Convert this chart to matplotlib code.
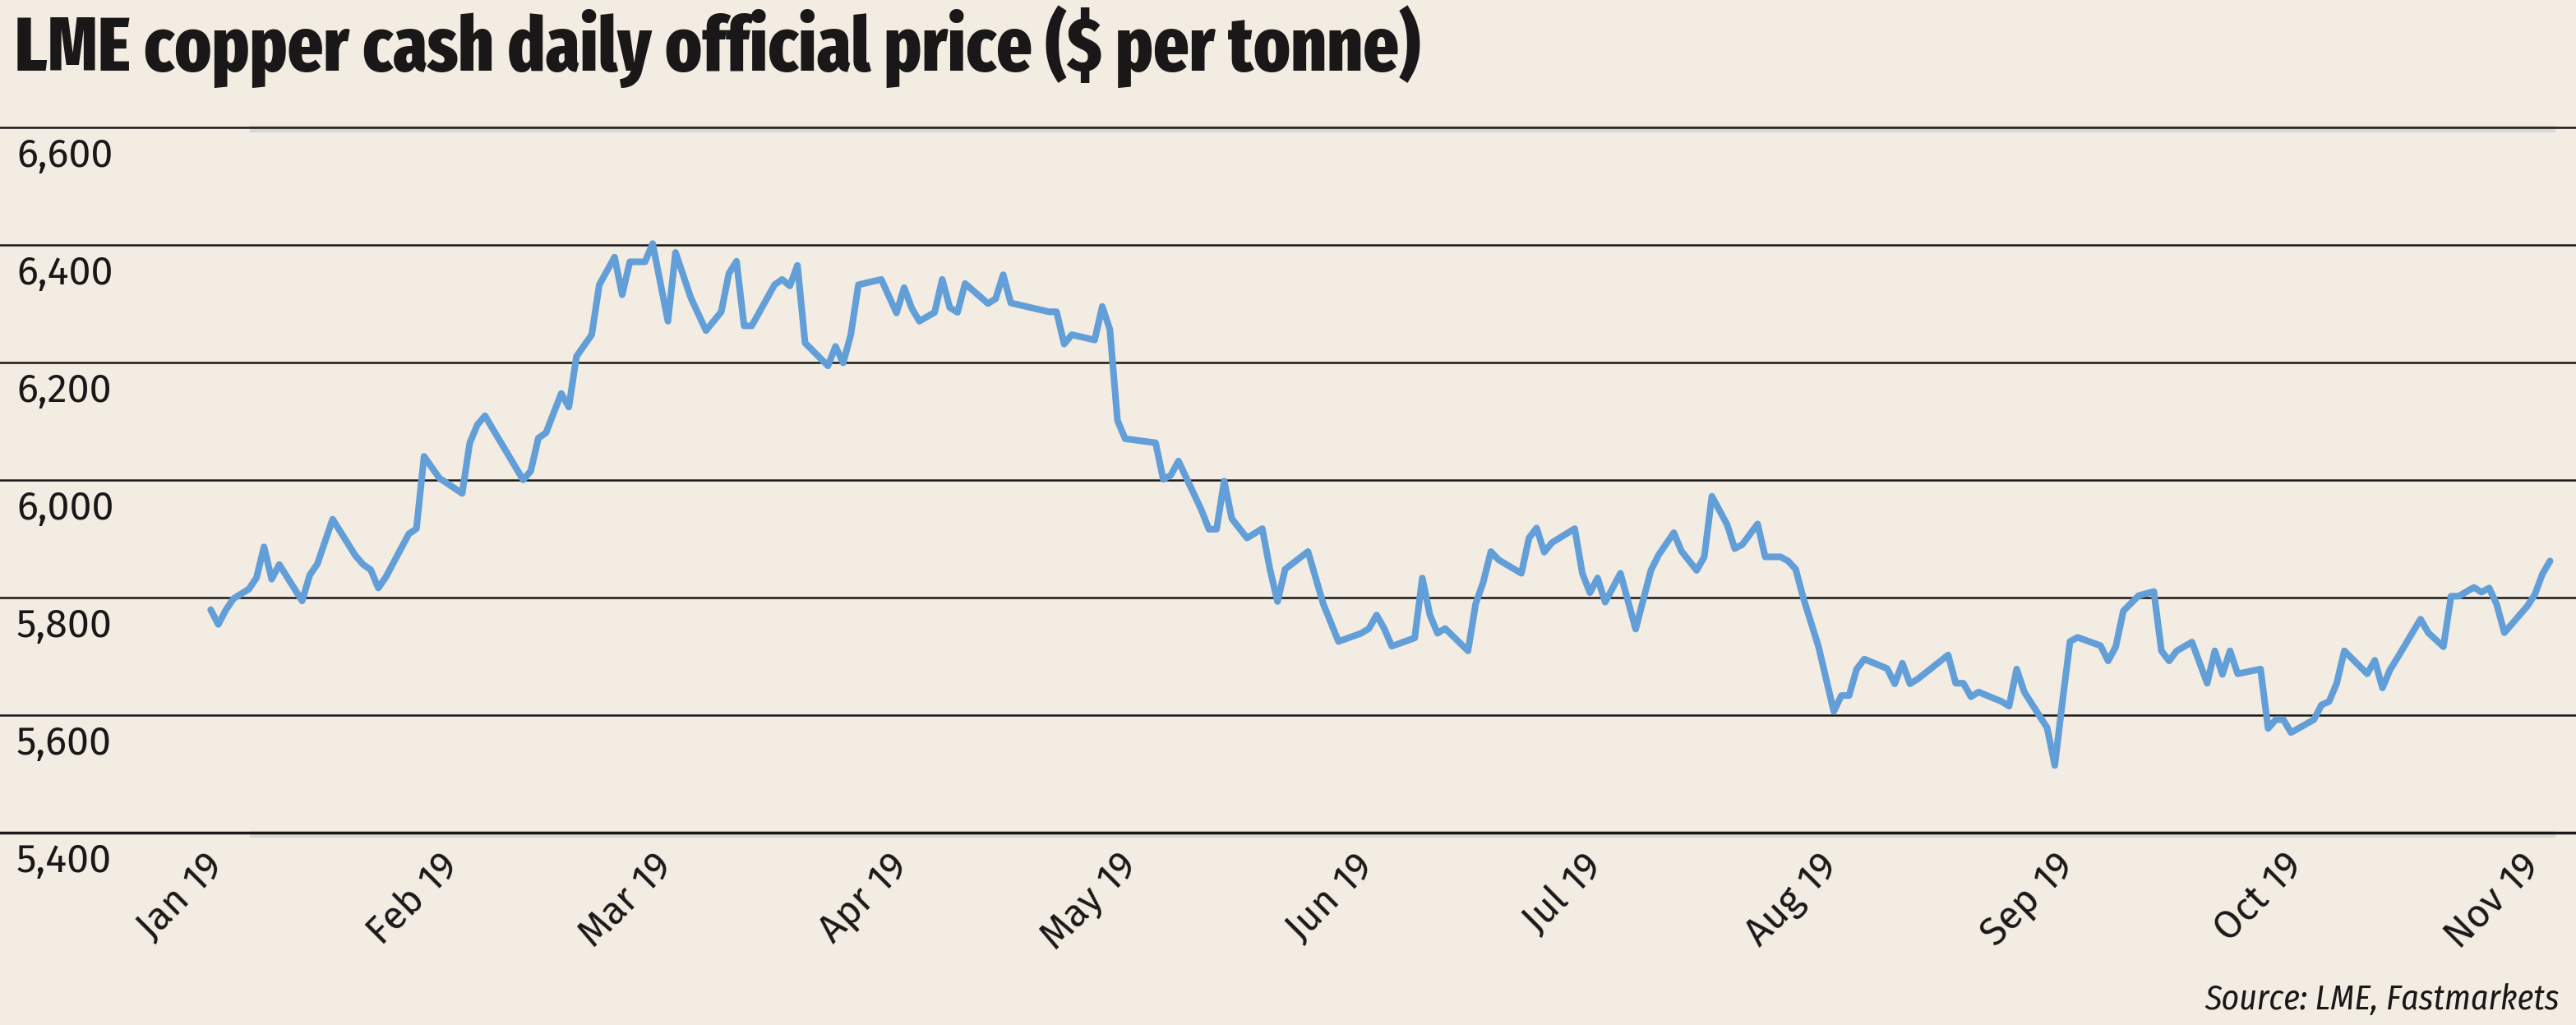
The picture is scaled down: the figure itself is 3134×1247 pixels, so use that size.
import numpy as np
import matplotlib
matplotlib.use('Agg')
from matplotlib import pyplot as plt
import matplotlib.dates as mdates
import matplotlib.transforms as mtransforms

# LME copper cash, daily official price, 2019
days_since_jan1 = [1, 2, 3, 4, 6, 7, 8, 9, 10, 13, 14, 15, 17, 20, 21, 22, 23, 24, 27, 28,
                   29, 31, 34, 35, 36, 37, 38, 42, 43, 44, 45, 47, 48, 49, 51, 52, 54, 55, 56, 58,
                   59, 61, 62,
                   64, 66, 68, 69, 70, 71, 72, 75, 76, 77, 78, 79, 82, 83, 84, 85, 86, 89, 91, 92,
                   93, 94, 96, 97, 98, 99, 100, 103, 104, 105, 106, 111, 112, 113, 114, 117, 118, 119, 120, 121,
                   125, 126, 127, 128, 131, 132, 133, 134, 135, 137, 139, 140, 141, 142, 145, 147, 149, 152, 153, 154,
                   155, 156, 159, 160, 161, 162, 163, 166, 167, 168, 169, 170, 173, 174, 175, 176, 177, 180, 181, 182,
                   183,
                   184, 186, 188, 190, 191, 193, 194, 196, 197, 198, 200, 201, 202, 204, 205, 207, 208, 209, 210, 212,
                   214, 215, 216, 217, 218, 221, 222, 223, 224, 225, 229, 230, 231, 232, 233, 236, 237, 238, 239, 242,
                   243, 244, 245, 246,
                   249, 250, 251, 252, 254, 256, 257, 258, 259, 261, 263, 264, 265, 266, 267, 270, 271, 272, 273, 274,
                   277, 278, 279, 280, 281, 284, 285, 286, 287, 288, 291, 292, 294, 295, 296, 298, 299, 300, 301, 302,
                   305, 306, 307, 308]
price = [5780, 5755, 5780, 5799, 5815, 5834, 5887, 5832, 5857, 5795, 5839, 5858, 5934, 5872, 5857, 5848, 5817, 5836, 5909, 5918,
         6041, 6004, 5978, 6064, 6095, 6110, 6088, 6001, 6016, 6072, 6081, 6148, 6125, 6211, 6248, 6333, 6380, 6316, 6372, 6372,
         6403, 6271, 6388,
         6311, 6255, 6287, 6352, 6373, 6263, 6263, 6333, 6342, 6331, 6366, 6234, 6195, 6228, 6200, 6248, 6333, 6342, 6285, 6328,
         6293, 6271, 6286, 6342, 6294, 6286, 6335, 6301, 6309, 6350, 6302, 6287, 6287, 6232, 6248, 6239, 6296, 6257, 6102, 6071,
         6064, 6002, 6009, 6033, 5950, 5917, 5917, 5999, 5935, 5902, 5918, 5849, 5794, 5849, 5879, 5790, 5726, 5740, 5748, 5771,
         5748, 5718, 5732, 5834, 5771, 5740, 5748, 5710, 5790, 5827, 5879, 5865, 5842, 5902, 5919, 5878, 5894, 5918, 5842, 5809,
         5834,
         5793, 5842, 5747, 5847, 5873, 5911, 5880, 5847, 5870, 5973, 5925, 5884, 5891, 5926, 5870, 5870, 5863, 5849, 5800, 5717,
         5607, 5634, 5634, 5679, 5696, 5680, 5654, 5689, 5654, 5662, 5703, 5655, 5655, 5632, 5640, 5624, 5616, 5679, 5640, 5579,
         5515, 5623, 5726, 5733,
         5719, 5693, 5717, 5778, 5804, 5811, 5710, 5693, 5710, 5725, 5655, 5710, 5670, 5710, 5671, 5679, 5578, 5593, 5593, 5571,
         5593, 5618, 5624, 5655, 5710, 5671, 5694, 5647, 5678, 5699, 5764, 5741, 5717, 5803, 5803, 5818, 5810, 5817, 5789, 5741,
         5786, 5806, 5841, 5863]

month_ticks = ['2019-01-01', '2019-02-01', '2019-03-01', '2019-04-01', '2019-05-01', '2019-06-01',
               '2019-07-01', '2019-08-01', '2019-09-01', '2019-10-01', '2019-11-01']
month_labels = ['Jan 19', 'Feb 19', 'Mar 19', 'Apr 19', 'May 19', 'Jun 19',
                'Jul 19', 'Aug 19', 'Sep 19', 'Oct 19', 'Nov 19']
yticks = [5400, 5600, 5800, 6000, 6200, 6400, 6600]

bg = '#f2ece2'
ink = '#1a1718'
blue = '#629ed8'
lab_font = ['Fira Sans', 'Open Sans', 'DejaVu Sans']
title_font = ['Fira Sans Extra Condensed', 'Barlow Condensed', 'DejaVu Sans']
src_font = ['Fira Sans Condensed', 'Barlow Condensed', 'DejaVu Sans']

W, H = 3134, 1247
fig = plt.figure(figsize=(W / 100, H / 100), dpi=100, facecolor=bg)
ax = fig.add_axes([0, (H - 1013.5) / H, 1, (1013.5 - 155.5) / H])
ax.set_facecolor(bg)

start = np.datetime64('2019-01-01')
dates = start + np.array(days_since_jan1).astype('timedelta64[D]')
ax.plot(dates, price, color=blue, lw=5.8, solid_joinstyle='round', solid_capstyle='round', zorder=3)

x0 = mdates.date2num(start)
ax.set_xlim(x0 - 26.65, x0 + 311.4)
ax.set_ylim(5400, 6600)

for s in ax.spines.values():
    s.set_visible(False)

# light shadow under the top and bottom rules
shift = mtransforms.ScaledTranslation(0, -2 / 100, fig.dpi_scale_trans)
for y in (yticks[0], yticks[-1]):
    sh = ax.axhline(y, xmin=308 / W, xmax=3105 / W, color='#dad7d2', lw=6, zorder=1, clip_on=False)
    sh.set_transform(sh.get_transform() + shift)
for y in yticks:
    ax.axhline(y, color=ink, lw=2.5 if y == yticks[0] else 1.8, zorder=2, clip_on=False)

ax.set_yticks(yticks)
ax.set_yticklabels(['{:,}'.format(v) for v in yticks], fontfamily=lab_font, fontweight='normal',
                   fontsize=35, color=ink)
ax.tick_params(axis='y', length=0, pad=-20 * 0.72)
down = mtransforms.ScaledTranslation(0, -11 / 100, fig.dpi_scale_trans)
for t in ax.get_yticklabels():
    t.set_horizontalalignment('left')
    t.set_verticalalignment('top')
    t.set_transform(t.get_transform() + down)

ax.set_xticks([mdates.date2num(np.datetime64(d)) for d in month_ticks])
ax.set_xticklabels(month_labels, fontfamily=lab_font, fontweight='normal', fontsize=34, color=ink,
                   rotation=45, ha='right', va='top', rotation_mode='anchor')
ax.tick_params(axis='x', length=0, pad=12)

fig.text(18 / W, 1 - 86 / H, 'LME copper cash daily official price ($ per tonne)',
         fontfamily=title_font, fontweight='heavy', fontsize=66, color=ink, va='baseline', ha='left')
fig.text(3114 / W, 1 - 1228 / H, 'Source: LME, Fastmarkets',
         fontfamily=src_font, fontweight='normal', fontstyle='italic', fontsize=30, color=ink,
         va='baseline', ha='right')

fig.savefig('out.png', dpi=100, facecolor=bg)
